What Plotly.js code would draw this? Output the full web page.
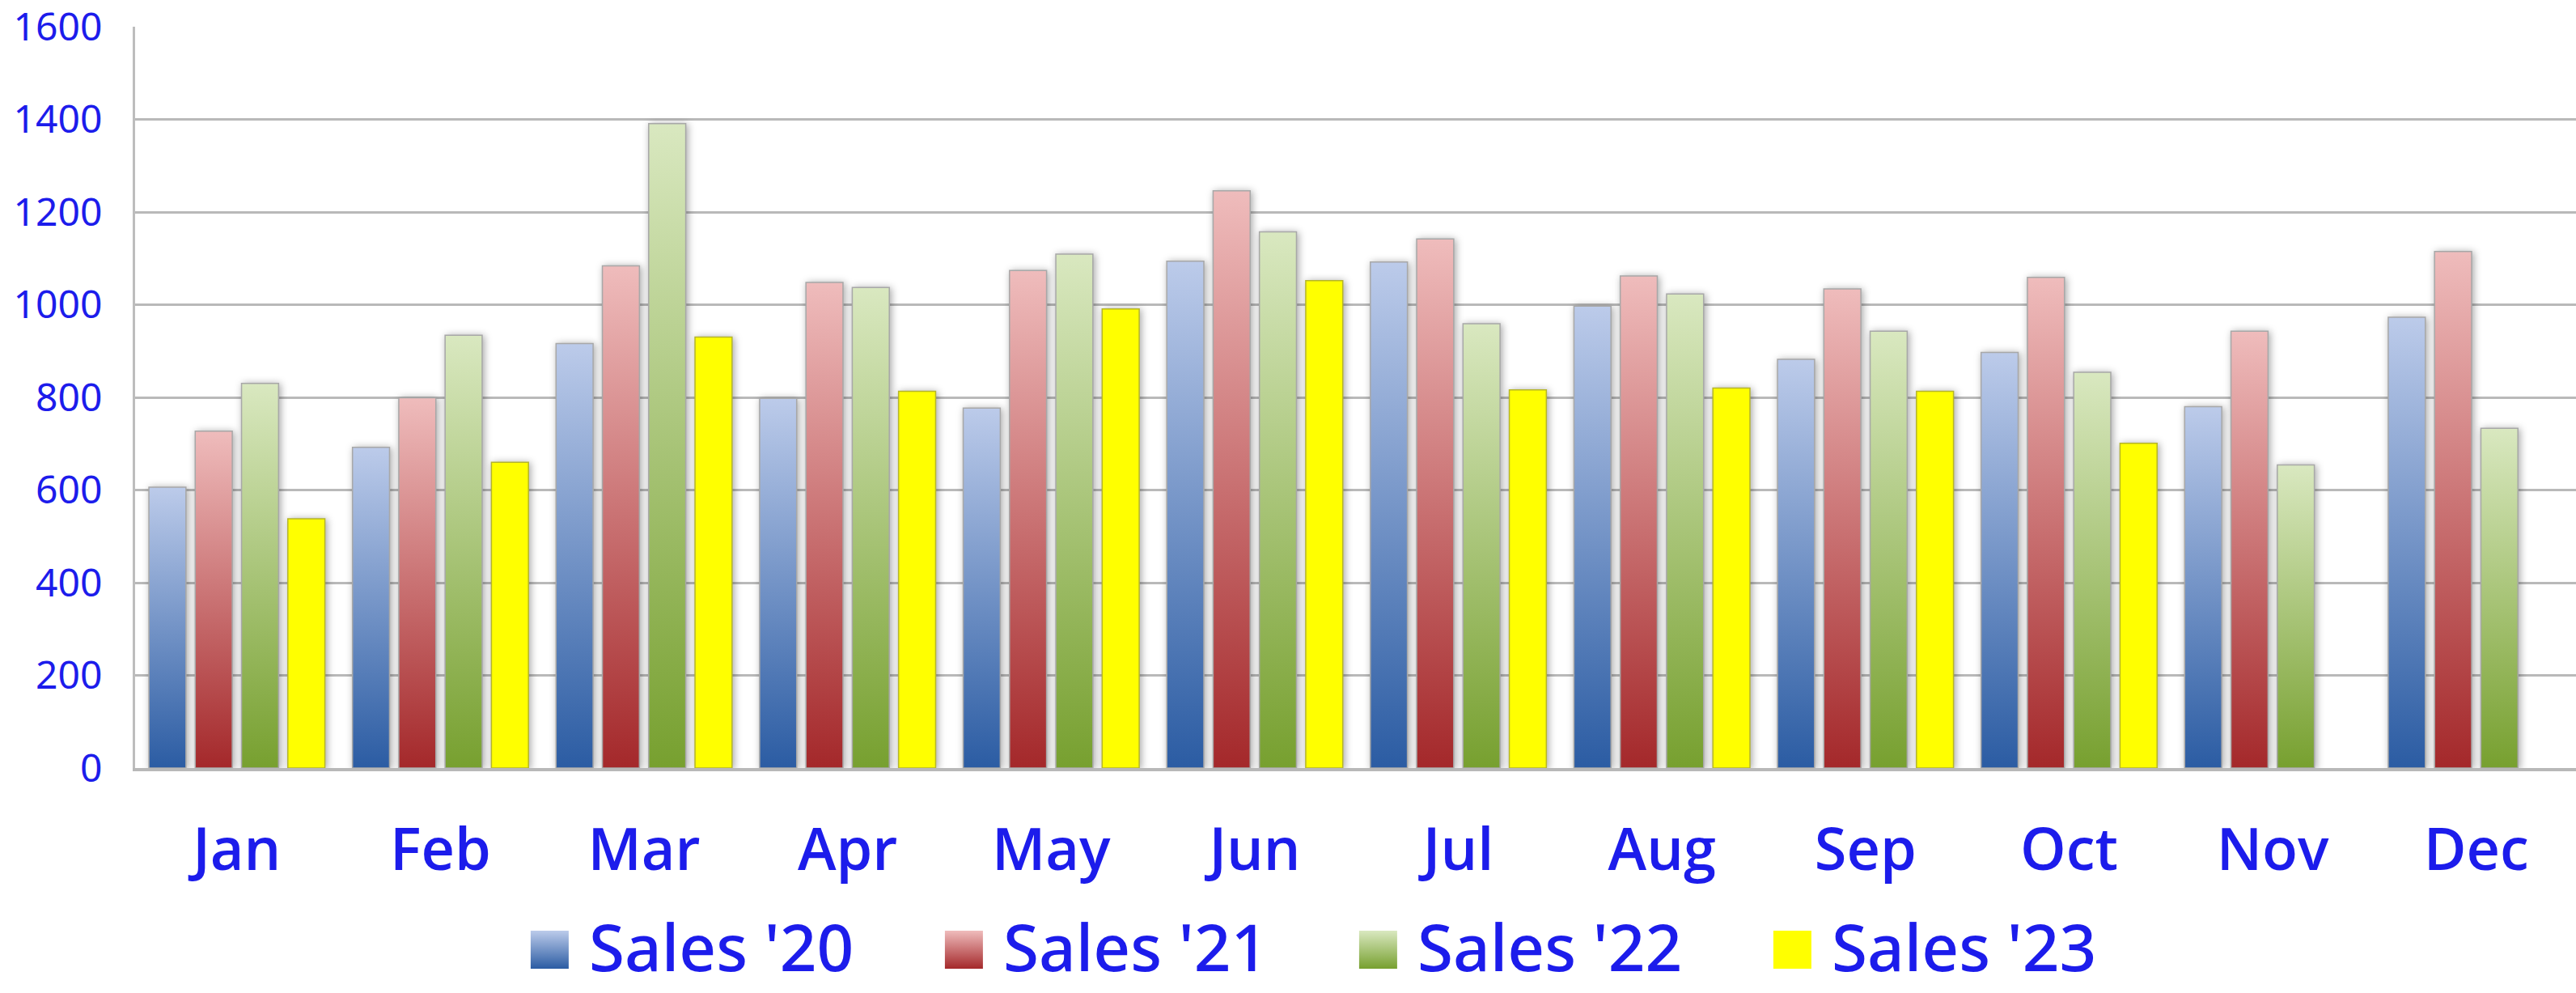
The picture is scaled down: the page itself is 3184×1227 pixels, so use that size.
<!DOCTYPE html>
<html>
<head>
<meta charset="utf-8">
<script src="https://cdn.plot.ly/plotly-3.0.1.min.js"></script>
<style>
  html, body { margin: 0; padding: 0; background: #ffffff; }
  #chart { width: 3184px; height: 1227px; }
</style>
</head>
<body>
<div id="chart"></div>
<script>
// ---- data ----
const months = ['Jan', 'Feb', 'Mar', 'Apr', 'May', 'Jun', 'Jul', 'Aug', 'Sep', 'Oct', 'Nov', 'Dec'];
const sales20 = [606, 692, 916, 798, 777, 1094, 1092, 997, 882, 897, 780, 973];
const sales21 = [727, 799, 1084, 1048, 1074, 1246, 1142, 1062, 1034, 1059, 943, 1115];
const sales22 = [830, 934, 1391, 1037, 1109, 1157, 959, 1023, 943, 854, 654, 733];
const sales23 = [538, 660, 930, 813, 991, 1052, 816, 820, 813, 701, null, null];
const seriesNames = ["Sales '20", "Sales '21", "Sales '22", "Sales '23"];
const yTicks = [0, 200, 400, 600, 800, 1000, 1200, 1400, 1600];

// ---- styles ----
const baseColors = ['#5a82c0', '#c85454', '#9aba5c', '#ffff00'];
const gradients = [
  ['#bccbea', '#2b5ca3'],
  ['#efbcbc', '#a4282a'],
  ['#d9e8c0', '#77a02f'],
  null
];
const textBlue = '#1c1ceb';

const seriesValues = [sales20, sales21, sales22, sales23];
const traces = seriesValues.map((vals, i) => ({
  type: 'bar',
  name: seriesNames[i],
  x: months,
  y: vals,
  marker: {
    color: baseColors[i],
    line: { color: i === 3 ? '#b5b52a' : '#a8a8a8', width: 1.5 }
  },
  hoverinfo: 'x+y+name'
}));

const layout = {
  width: 3184,
  height: 1227,
  margin: { l: 167, r: 0, t: 33, b: 278, autoexpand: false },
  paper_bgcolor: '#ffffff',
  plot_bgcolor: '#ffffff',
  barmode: 'group',
  bargap: 0.09,
  bargroupgap: 0.2,
  showlegend: true,
  font: { family: 'Noto Sans, sans-serif', color: textBlue },
  xaxis: {
    type: 'category',
    range: [-0.5, 11.49],
    showgrid: false,
    showline: true,
    linecolor: '#b8b8b8',
    linewidth: 4,
    ticks: '',
    ticklabelstandoff: 36,
    tickfont: { family: 'Open Sans, Noto Sans, sans-serif', size: 72, color: textBlue, weight: 600 },
    fixedrange: true
  },
  yaxis: {
    range: [0, 1600],
    tickvals: yTicks,
    ticktext: yTicks.map(String),
    ticklabeloverflow: 'allow',
    showgrid: true,
    gridcolor: '#b9b9b9',
    gridwidth: 3,
    zeroline: false,
    showline: true,
    linecolor: '#bdbdbd',
    linewidth: 3,
    ticks: '',
    ticklabelstandoff: 28,
    tickfont: { family: 'Noto Sans, sans-serif', size: 48, color: textBlue },
    fixedrange: true
  },
  legend: {
    orientation: 'h',
    xref: 'paper',
    yref: 'paper',
    x: 0.1594,
    xanchor: 'left',
    y: -0.3035,
    yanchor: 'bottom',
    itemwidth: 70,
    entrywidth: 427,
    entrywidthmode: 'pixels',
    font: { family: 'Noto Sans, sans-serif', size: 80, color: textBlue, weight: 500 },
    bgcolor: 'rgba(0,0,0,0)',
    borderwidth: 0,
    itemclick: false,
    itemdoubleclick: false
  }
};

function decorate(gd) {
  const svg = gd.querySelector('svg.main-svg');
  if (!svg) return;
  const ns = 'http://www.w3.org/2000/svg';
  let defs = svg.querySelector('defs');
  if (!defs) { defs = document.createElementNS(ns, 'defs'); svg.insertBefore(defs, svg.firstChild); }
  gradients.forEach((g, i) => {
    if (!g) return;
    if (svg.querySelector('#barGrad' + i)) return;
    const lg = document.createElementNS(ns, 'linearGradient');
    lg.setAttribute('id', 'barGrad' + i);
    lg.setAttribute('x1', '0'); lg.setAttribute('y1', '0');
    lg.setAttribute('x2', '0'); lg.setAttribute('y2', '1');
    [[0, g[0]], [1, g[1]]].forEach(([o, c]) => {
      const st = document.createElementNS(ns, 'stop');
      st.setAttribute('offset', String(o));
      st.setAttribute('stop-color', c);
      lg.appendChild(st);
    });
    defs.appendChild(lg);
  });
  const barTraces = gd.querySelectorAll('.barlayer .trace.bars');
  barTraces.forEach((tr, i) => {
    tr.querySelectorAll('.point path').forEach(p => {
      if (gradients[i]) p.style.fill = 'url(#barGrad' + i + ')';
      p.style.filter = 'drop-shadow(2px 1px 5px rgba(0,0,0,0.35))';
    });
  });
  const items = gd.querySelectorAll('.legend .traces');
  items.forEach((t, i) => {
    const p = t.querySelector('.legendpoints path');
    const txt = t.querySelector('text.legendtext');
    if (!p || !txt) return;
    const pm = p.getCTM(), tm = txt.getCTM();
    const dx = (tm && pm) ? (tm.e - pm.e) : 20;
    const textStart = parseFloat(txt.getAttribute('x') || '0') + dx;
    const right = textStart - 25;
    p.setAttribute('d', 'M' + (right - 47) + ',-18.5h47v47h-47Z');
    p.style.strokeWidth = '0';
    if (gradients[i]) p.style.fill = 'url(#barGrad' + i + ')';
  });
}

const gd = document.getElementById('chart');
Plotly.newPlot(gd, traces, layout, { staticPlot: false, displayModeBar: false }).then(() => {
  decorate(gd);
  gd.on('plotly_afterplot', () => decorate(gd));
});
</script>
</body>
</html>
